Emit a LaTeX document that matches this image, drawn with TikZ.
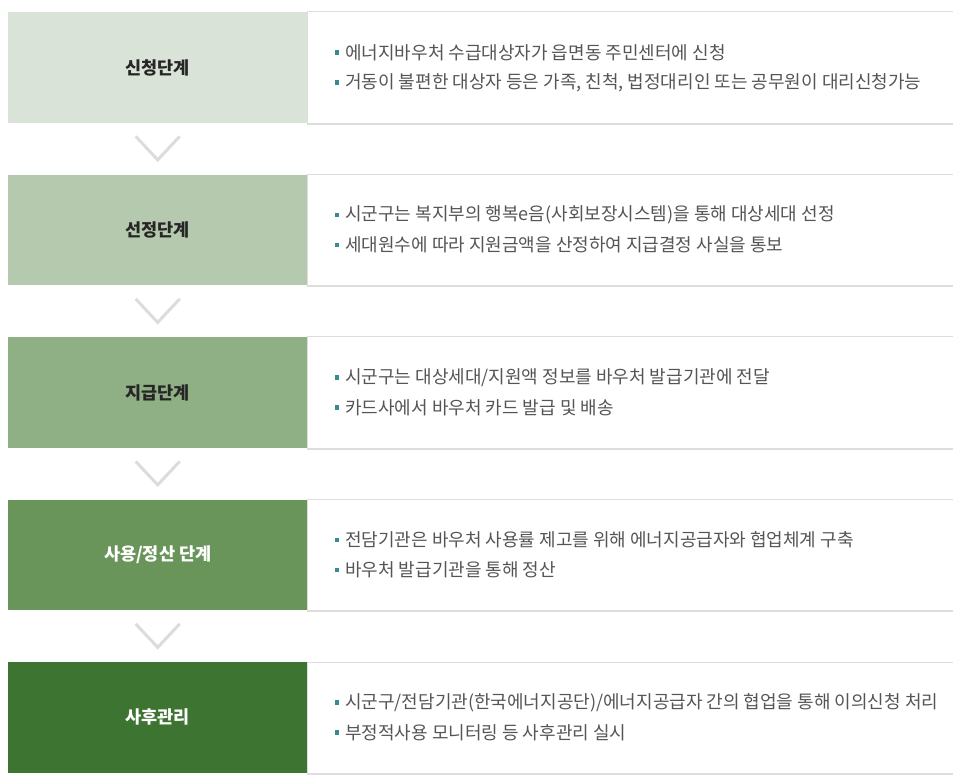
\documentclass[tikz,border=0pt]{standalone}
\usepackage{fontspec}
\setmainfont{Noto Sans CJK KR}
\definecolor{cA}{HTML}{D9E3D7}
\definecolor{cB}{HTML}{B4C9AD}
\definecolor{cC}{HTML}{8FAF84}
\definecolor{cD}{HTML}{6A955A}
\definecolor{cE}{HTML}{3E7432}
\definecolor{txt}{HTML}{555555}
\definecolor{bul}{HTML}{3A8A96}
\definecolor{lin}{HTML}{DDDDDD}
\definecolor{chev}{HTML}{DCDCDC}
\begin{document}
\begin{tikzpicture}[x=1pt,y=-1pt,
  stagebox/.style={draw=none,minimum width=299pt,minimum height=110.5pt,inner sep=0pt,anchor=north west,font=\fontsize{17.5}{19}\selectfont\bfseries},
  descbox/.style={draw=none,minimum width=646pt,minimum height=110.5pt,inner sep=0pt,anchor=north west},
  itemtxt/.style={anchor=west,inner sep=0pt,text=txt,font=\fontsize{18}{20}\selectfont},
  bulletsq/.style={fill=bul,draw=none,minimum size=4.5pt,inner sep=0pt},
  chevline/.style={draw=chev,line width=3pt}]
\useasboundingbox (0,0) rectangle (953,783);
\fill[white] (0,0) rectangle (953,783);
% rows
\foreach \i/\col/\tc/\lab [count=\k] in {0/cA/black!85/{신청단계}, 1/cB/black!85/{선정단계}, 2/cC/black!85/{지급단계}, 3/cD/white/{사용/정산 단계}, 4/cE/white/{사후관리}}{
  \pgfmathsetmacro{\top}{12+162.5*\i}
  \node[descbox] (d\k) at (307,\top) {};
  \draw[lin,line width=1pt] (d\k.north west) -- (d\k.north east);
  \draw[lin,line width=2pt] ([yshift=-1pt]d\k.south west) -- ([yshift=-1pt]d\k.south east);
  \draw[lin,line width=0.8pt] (d\k.north west) -- (d\k.south west);
  \node[stagebox,fill=\col,text=\tc] (s\k) at (8,\top) {\lab};
}
% chevrons
\foreach \k in {1,2,3,4}{
  \coordinate (ca\k) at ([xshift=-22pt,yshift=-13.5pt]s\k.south);
  \coordinate (cb\k) at ([yshift=-37pt]s\k.south);
  \coordinate (cc\k) at ([xshift=22pt,yshift=-13.5pt]s\k.south);
  \draw[chevline] (ca\k) -- (cb\k) -- (cc\k);
}
% items
\foreach \k/\a/\b in {
 1/{에너지바우처 수급대상자가 읍면동 주민센터에 신청}/{거동이 불편한 대상자 등은 가족, 친척, 법정대리인 또는 공무원이 대리신청가능},
 2/{시군구는 복지부의 행복e음(사회보장시스템)을 통해 대상세대 선정}/{세대원수에 따라 지원금액을 산정하여 지급결정 사실을 통보},
 3/{시군구는 대상세대/지원액 정보를 바우처 발급기관에 전달}/{카드사에서 바우처 카드 발급 및 배송},
 4/{전담기관은 바우처 사용률 제고를 위해 에너지공급자와 협업체계 구축}/{바우처 발급기관을 통해 정산},
 5/{시군구/전담기관(한국에너지공단)/에너지공급자 간의 협업을 통해 이의신청 처리}/{부정적사용 모니터링 등 사후관리 실시}}{
  \node[bulletsq] (ba\k) at ([xshift=30pt,yshift=15pt]d\k.west) {};
  \node[bulletsq] (bb\k) at ([xshift=30pt,yshift=-15pt]d\k.west) {};
  \node[itemtxt] (ta\k) at ([xshift=38pt,yshift=15pt]d\k.west) {\a};
  \node[itemtxt] (tb\k) at ([xshift=38pt,yshift=-15pt]d\k.west) {\b};
}
\end{tikzpicture}
\end{document}
